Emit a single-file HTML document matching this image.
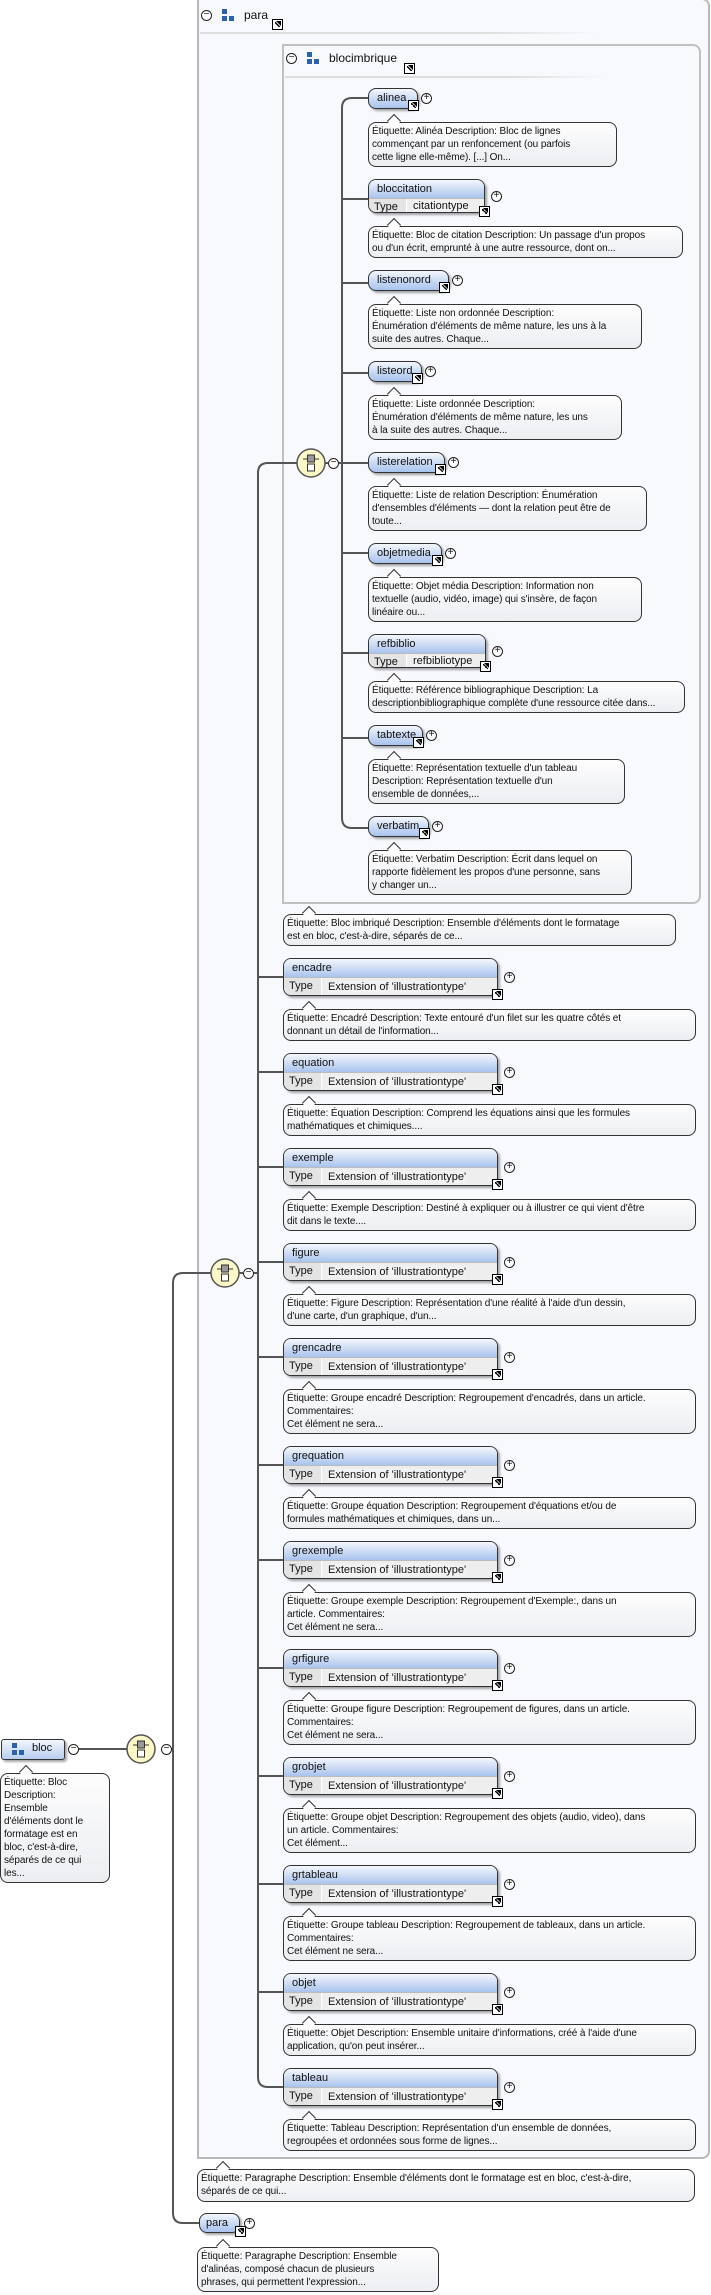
<!DOCTYPE html>
<html><head><meta charset="utf-8">
<style>
*{margin:0;padding:0;box-sizing:border-box}
body{width:711px;height:2295px;background:#fff;position:relative;overflow:hidden;font-family:"Liberation Sans","DejaVu Sans",sans-serif;color:#111}
.abs{position:absolute}
.node{position:absolute;border:1.5px solid #333;border-radius:8px;background:linear-gradient(#f4f7fd,#c4d6f3 60%,#a9c3ee);box-shadow:2px 2px 2px rgba(0,0,0,.35);font-size:11px;white-space:nowrap}
.node .lbl{position:absolute;left:8px;top:3px}
.tnode{background:#eeeeee}
.tnode .hd{position:absolute;left:0;right:0;top:0;height:19px;border-radius:7px 7px 0 0;background:linear-gradient(#f4f7fd,#c0d3f2 70%,#a9c3ee);border-bottom:1px solid #bbb}
.tnode .hd span{position:absolute;left:8px;top:3px}
.tnode .ty{position:absolute;left:0;top:19px;bottom:0;width:38px;background:#e4e4e4;border-right:1px solid #fff;border-radius:0 0 0 7px;padding-left:5px;padding-top:2px}
.tnode .tv{position:absolute;left:44px;top:21px;background:#f2f2f2}
.cm{position:absolute;border:1.3px solid #333;border-radius:8px;background:linear-gradient(#fdfdfd,#eceef2);font-size:10px;line-height:13px;padding:2px 3px;white-space:nowrap;letter-spacing:-0.1px}
.cm:before{content:"";position:absolute;left:20px;top:-7px;width:9px;height:9px;border-left:1.3px solid #333;border-top:1.3px solid #333;background:#fdfdfd;transform:rotate(45deg)}
.lk{position:absolute;width:11px;height:11px;background:#fff;border:1px solid #000;font-size:9px;line-height:9px;text-align:center;font-weight:bold}
.lk:after{content:"";position:absolute;left:2px;top:2px;width:5px;height:5px;background:linear-gradient(45deg,transparent 40%,#000 40%,#000 60%,transparent 60%)}
.lk:before{content:"";position:absolute;right:1px;top:1px;border-left:5px solid transparent;border-top:5px solid #000}
.pl{position:absolute;width:11px;height:11px;border:1px solid #222;border-radius:50%;background:#fff;font-size:10px;line-height:8px;text-align:center}
</style></head><body>

<!-- para outer box -->
<div class="abs" style="left:197px;top:-2px;width:513px;height:2161px;border:2px solid #b8b8b8;border-radius:0 8px 8px 0;background:#f7f9fd"></div>
<div class="abs" style="left:200px;top:32px;width:400px;height:2px;background:linear-gradient(90deg,#ddd,#ddd 70%,rgba(221,221,221,0))"></div>
<!-- blocimbrique box -->
<div class="abs" style="left:282px;top:44px;width:419px;height:860px;border:2px solid #c0c0c0;border-radius:0 8px 8px 0;background:#f7f9fd"></div>
<div class="abs" style="left:285px;top:76px;width:320px;height:2px;background:linear-gradient(90deg,#ddd,#ddd 70%,rgba(221,221,221,0))"></div>

<svg class="abs" style="left:0;top:0" width="711" height="2295">
<g fill="none" stroke="#555" stroke-width="2">
<!-- bloc to seq -->
<line x1="78" y1="1749" x2="127" y2="1749"/>
<line x1="171" y1="1749" x2="173" y2="1749"/>
<path d="M211 1273 H183 Q173 1273 173 1283 V2213 Q173 2223 183 2223 H199"/>
<!-- para seq -->
<line x1="239" y1="1273" x2="243" y2="1273"/>
<line x1="253" y1="1273" x2="258" y2="1273"/>
<path d="M297 463 H268 Q258 463 258 473 V2077 Q258 2087 268 2087 H283"/>
<!-- blocimbrique choice -->
<line x1="325" y1="463" x2="328" y2="463"/>
<line x1="338" y1="463" x2="342" y2="463"/>
<path d="M368 98 H352 Q342 98 342 108 V818 Q342 828 352 828 H368"/>
<g id="inner">
<line x1="342" y1="199" x2="368" y2="199"/>
<line x1="342" y1="283" x2="368" y2="283"/>
<line x1="342" y1="373" x2="368" y2="373"/>
<line x1="342" y1="463" x2="368" y2="463"/>
<line x1="342" y1="553" x2="368" y2="553"/>
<line x1="342" y1="653" x2="368" y2="653"/>
<line x1="342" y1="738" x2="368" y2="738"/>
</g>
<g id="outerl"></g>
</g>
<!-- seq/choice icons -->
<g id="icons"></g>
</svg>

<!-- header para -->
<div class="pl" style="left:201px;top:10px;line-height:7px">−</div>
<div class="abs" style="left:222px;top:9px;width:5px;height:5px;background:#2a62b0"></div>
<div class="abs" style="left:222px;top:16px;width:5px;height:5px;background:#2a62b0"></div>
<div class="abs" style="left:229px;top:16px;width:5px;height:5px;background:#2a62b0"></div>
<div class="abs" style="left:244px;top:8px;font-size:12px">para</div>
<div class="lk" style="left:272px;top:19px"></div>
<!-- header blocimbrique -->
<div class="pl" style="left:286px;top:53px;line-height:7px">−</div>
<div class="abs" style="left:307px;top:52px;width:5px;height:5px;background:#2a62b0"></div>
<div class="abs" style="left:307px;top:59px;width:5px;height:5px;background:#2a62b0"></div>
<div class="abs" style="left:314px;top:59px;width:5px;height:5px;background:#2a62b0"></div>
<div class="abs" style="left:329px;top:51px;font-size:12px">blocimbrique</div>
<div class="lk" style="left:404px;top:63px"></div>

<!-- bloc -->
<div class="abs" style="left:1px;top:1739px;width:64px;height:21px;border:1.5px solid #333;border-radius:3px;background:linear-gradient(#f4f7fd,#b8cdf0);box-shadow:2px 2px 2px rgba(0,0,0,.35)"></div>
<div class="abs" style="left:12px;top:1743px;width:5px;height:5px;background:#2a62b0"></div>
<div class="abs" style="left:12px;top:1750px;width:5px;height:5px;background:#2a62b0"></div>
<div class="abs" style="left:19px;top:1750px;width:5px;height:5px;background:#2a62b0"></div>
<div class="abs" style="left:32px;top:1742px;font-size:11px">bloc</div>
<div class="pl" style="left:68px;top:1744px;line-height:7px">−</div>
<div class="pl" style="left:161px;top:1744px;line-height:7px">−</div>
<div class="pl" style="left:243px;top:1268px;line-height:7px">−</div>
<div class="pl" style="left:328px;top:458px;line-height:7px">−</div>
<div class="cm" style="left:0;top:1773px;width:110px;height:110px">Étiquette: Bloc<br>Description:<br>Ensemble<br>d'éléments dont le<br>formatage est en<br>bloc, c'est-à-dire,<br>séparés de ce qui<br>les...</div>

<div class="node" style="left:199px;top:2213px;width:41px;height:20px"><span class="lbl" style="left:6px">para</span></div>
<div class="lk" style="left:235px;top:2226px"></div>
<div class="pl" style="left:244px;top:2218px">+</div>
<div class="cm" style="left:197px;top:2169px;width:498px;height:33px">Étiquette: Paragraphe Description: Ensemble d'éléments dont le formatage est en bloc, c'est-à-dire,<br>séparés de ce qui...</div>
<div class="cm" style="left:197px;top:2247px;width:242px;height:45px">Étiquette: Paragraphe Description: Ensemble<br>d'alinéas, composé chacun de plusieurs<br>phrases, qui permettent l'expression...</div>

<div id="gen"></div>

<script>
var G=document.getElementById('gen'),h='';
function node(x,y,w,lbl,type,tall){
  if(type){var H=tall?38:34;
    h+='<div class="node tnode" style="left:'+x+'px;top:'+y+'px;width:'+w+'px;height:'+H+'px"><div class="hd"><span>'+lbl+'</span></div><div class="ty">Type</div><div class="tv" style="top:'+(tall?22:20)+'px">'+type+'</div></div>';
    h+='<div class="lk" style="left:'+(x+w-6)+'px;top:'+(y+H-7)+'px"></div>';
    h+='<div class="pl" style="left:'+(x+w+6)+'px;top:'+(y+H/2-5)+'px">+</div>';
    return H;}
  h+='<div class="node" style="left:'+x+'px;top:'+y+'px;width:'+w+'px;height:21px"><span class="lbl">'+lbl+'</span></div>';
  h+='<div class="lk" style="left:'+(x+w-10)+'px;top:'+(y+12)+'px"></div>';
  h+='<div class="pl" style="left:'+(x+w+3)+'px;top:'+(y+5)+'px">+</div>';
  return 21;}
function cm(x,y,w,lines){h+='<div class="cm" style="left:'+x+'px;top:'+y+'px;width:'+w+'px;height:'+(lines.length*13+6)+'px">'+lines.join('<br>')+'</div>';return lines.length*13+6;}
var inner=[
['alinea',50,null,249,["Étiquette: Alinéa Description: Bloc de lignes","commençant par un renfoncement (ou parfois","cette ligne elle-même). [...] On..."]],
['bloccitation',117,'citationtype',315,["Étiquette: Bloc de citation Description: Un passage d'un propos","ou d'un écrit, emprunté à une autre ressource, dont on..."]],
['listenonord',81,null,274,["Étiquette: Liste non ordonnée Description:","Énumération d'éléments de même nature, les uns à la","suite des autres. Chaque..."]],
['listeord',54,null,254,["Étiquette: Liste ordonnée Description:","Énumération d'éléments de même nature, les uns","à la suite des autres. Chaque..."]],
['listerelation',77,null,279,["Étiquette: Liste de relation Description: Énumération","d'ensembles d'éléments — dont la relation peut être de","toute..."]],
['objetmedia',74,null,274,["Étiquette: Objet média Description: Information non","textuelle (audio, vidéo, image) qui s'insère, de façon","linéaire ou..."]],
['refbiblio',118,'refbibliotype',317,["Étiquette: Référence bibliographique Description: La","descriptionbibliographique complète d'une ressource citée dans..."]],
['tabtexte',55,null,257,["Étiquette: Représentation textuelle d'un tableau","Description: Représentation textuelle d'un","ensemble de données,..."]],
['verbatim',61,null,264,["Étiquette: Verbatim Description: Écrit dans lequel on","rapporte fidèlement les propos d'une personne, sans","y changer un..."]]
];
var y=88;
inner.forEach(function(n){var H=node(368,y,n[1],n[0],n[2],false);y+=H+13;y+=cm(368,y,n[3],n[4])+12;});
cm(283,914,393,["Étiquette: Bloc imbriqué Description: Ensemble d'éléments dont le formatage","est en bloc, c'est-à-dire, séparés de ce..."]);
var E="Extension of 'illustrationtype'";
var outer=[
['encadre',["Étiquette: Encadré Description: Texte entouré d'un filet sur les quatre côtés et","donnant un détail de l'information..."]],
['equation',["Étiquette: Équation Description: Comprend les équations ainsi que les formules","mathématiques et chimiques...."]],
['exemple',["Étiquette: Exemple Description: Destiné à expliquer ou à illustrer ce qui vient d'être","dit dans le texte...."]],
['figure',["Étiquette: Figure Description: Représentation d'une réalité à l'aide d'un dessin,","d'une carte, d'un graphique, d'un..."]],
['grencadre',["Étiquette: Groupe encadré Description: Regroupement d'encadrés, dans un article.","Commentaires:","Cet élément ne sera..."]],
['grequation',["Étiquette: Groupe équation Description: Regroupement d'équations et/ou de","formules mathématiques et chimiques, dans un..."]],
['grexemple',["Étiquette: Groupe exemple Description: Regroupement d'Exemple:, dans un","article. Commentaires:","Cet élément ne sera..."]],
['grfigure',["Étiquette: Groupe figure Description: Regroupement de figures, dans un article.","Commentaires:","Cet élément ne sera..."]],
['grobjet',["Étiquette: Groupe objet Description: Regroupement des objets (audio, video), dans","un article. Commentaires:","Cet élément..."]],
['grtableau',["Étiquette: Groupe tableau Description: Regroupement de tableaux, dans un article.","Commentaires:","Cet élément ne sera..."]],
['objet',["Étiquette: Objet Description: Ensemble unitaire d'informations, créé à l'aide d'une","application, qu'on peut insérer..."]],
['tableau',["Étiquette: Tableau Description: Représentation d'un ensemble de données,","regroupées et ordonnées sous forme de lignes..."]]
];
y=958;var lines='';
outer.forEach(function(n,i){node(283,y,215,n[0],E,true);
  if(i<outer.length-1) lines+='<line x1="258" y1="'+(y+19)+'" x2="283" y2="'+(y+19)+'"/>';
  y+=51;y+=cm(283,y,413,n[1])+12;});
document.getElementById('outerl').innerHTML=lines;
var ic='';
[[141,1749],[225,1273],[311,463]].forEach(function(p){var x=p[0],yy=p[1];
 ic+='<ellipse cx="'+x+'" cy="'+yy+'" rx="14" ry="14" fill="#fcf7c6" stroke="#555" stroke-width="1.5"/>';
 ic+='<line x1="'+(x-8)+'" y1="'+(yy-4)+'" x2="'+(x+8)+'" y2="'+(yy-4)+'" stroke="#333" stroke-width="1"/>';
 ic+='<rect x="'+(x-3.5)+'" y="'+(yy-8)+'" width="7" height="7" fill="#999" stroke="#333" stroke-width="1"/>';
 ic+='<rect x="'+(x-3.5)+'" y="'+(yy+1)+'" width="7" height="7" fill="#fff" stroke="#333" stroke-width="1"/>';});
document.getElementById('icons').innerHTML=ic;
G.innerHTML=h;
</script>
</body></html>
